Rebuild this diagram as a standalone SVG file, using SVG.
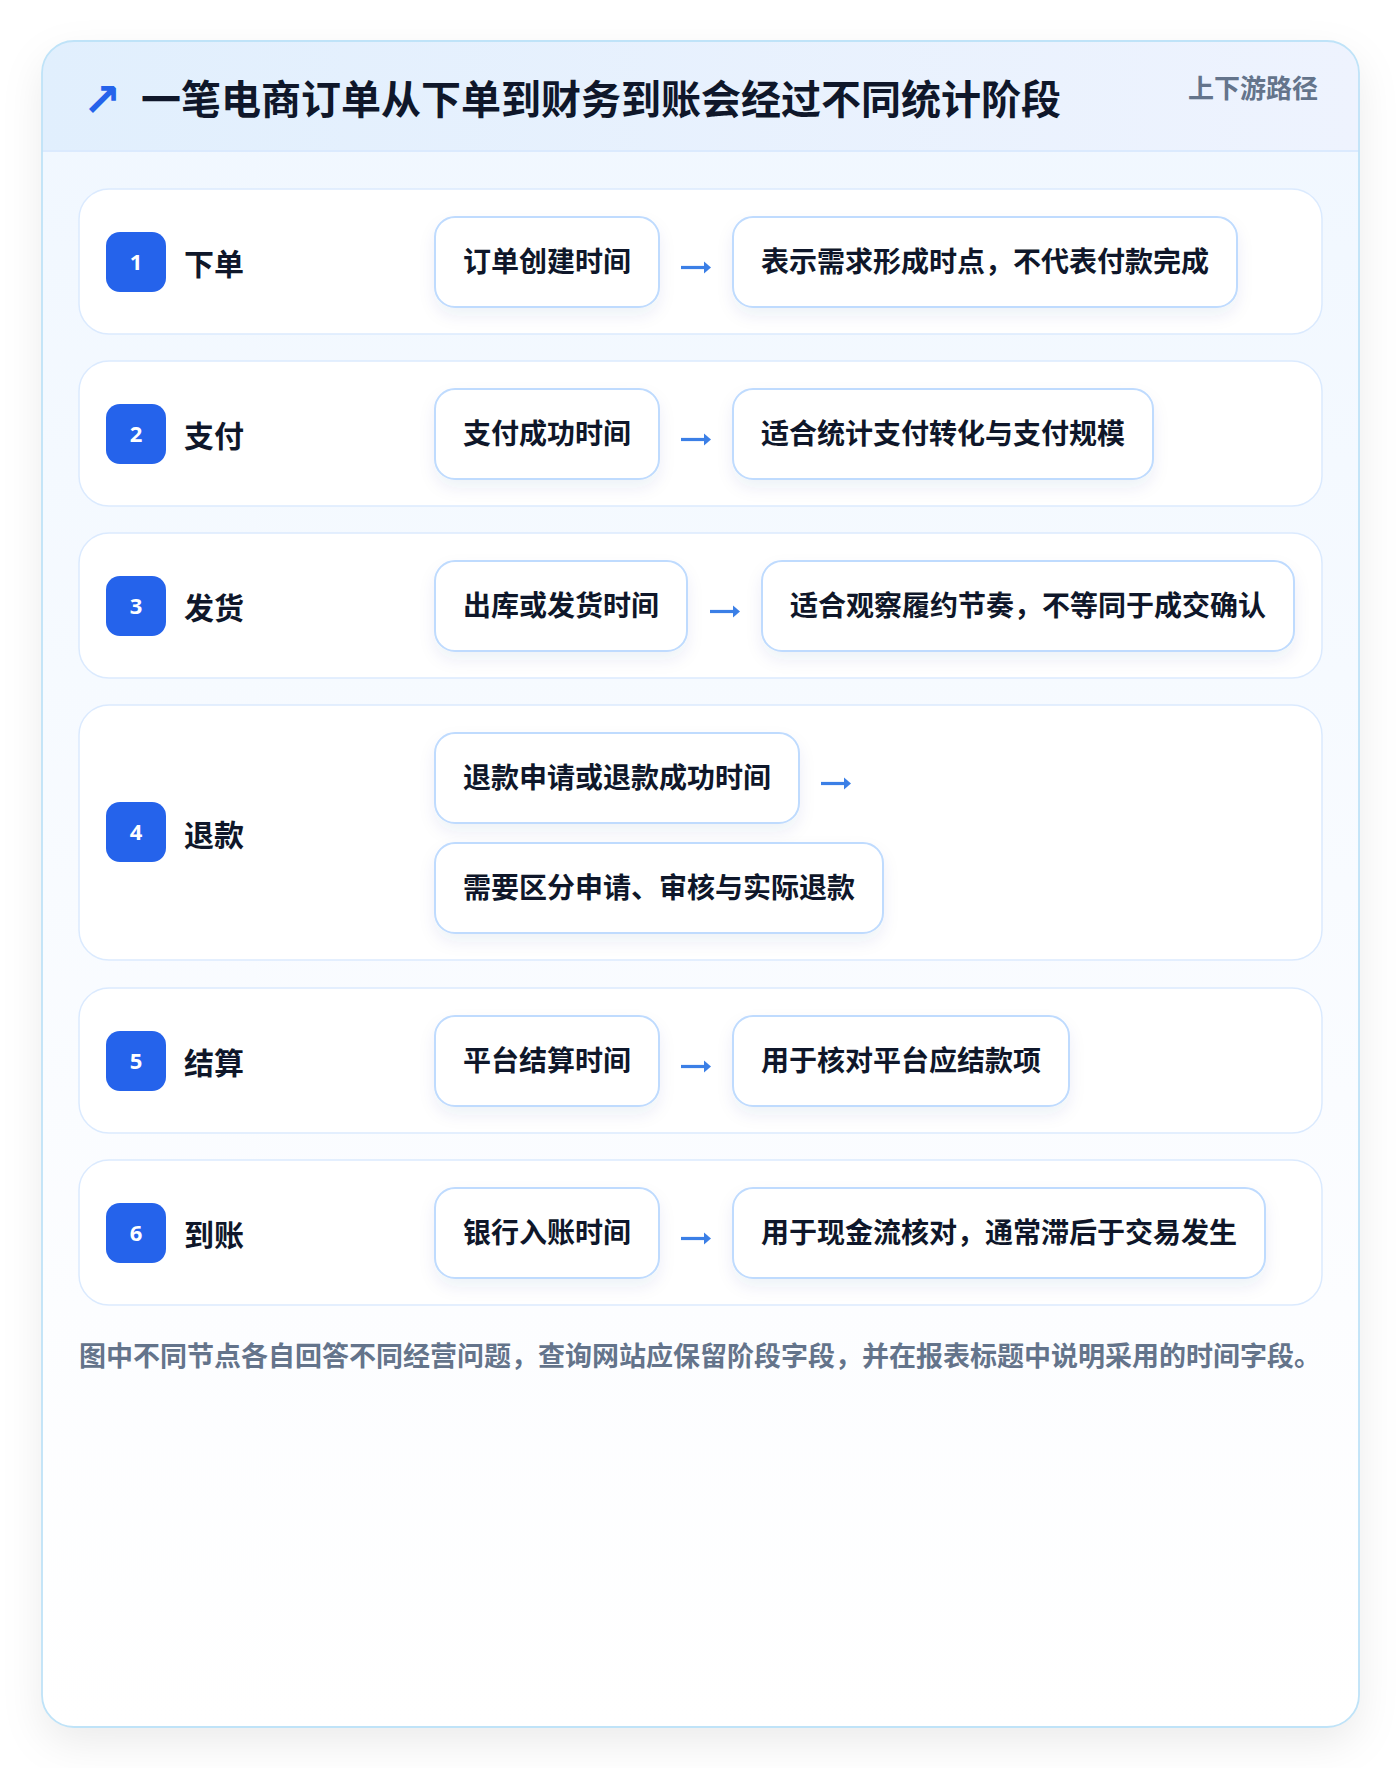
<svg xmlns="http://www.w3.org/2000/svg" width="1400" height="1768" viewBox="0 0 1400 1768">
<defs>
<linearGradient id="hdr" x1="0" y1="0" x2="1" y2="0"><stop offset="0" stop-color="#e1effd"/><stop offset="1" stop-color="#eef3fe"/></linearGradient>
<linearGradient id="body" x1="0" y1="0" x2="0" y2="1"><stop offset="0" stop-color="#f0f7ff"/><stop offset="0.75" stop-color="#fcfdff"/><stop offset="1" stop-color="#ffffff"/></linearGradient>
<filter id="cardShadow" x="-10%" y="-10%" width="120%" height="120%"><feDropShadow dx="0" dy="16" stdDeviation="20" flood-color="#0f172a" flood-opacity="0.08"/></filter>
<filter id="boxShadow" x="-20%" y="-30%" width="140%" height="170%"><feDropShadow dx="0" dy="8" stdDeviation="8" flood-color="#1e3a8a" flood-opacity="0.07"/></filter>
<clipPath id="cardClip"><rect x="42" y="41" width="1317" height="1686" rx="32"/></clipPath>
<g id="arrow">
<path d="M0 0 H25" stroke="#3b7fe6" stroke-width="3.2" fill="none"/>
<path d="M23 -6 L30 0 L23 6 Z" fill="#3b7fe6"/>
</g>
</defs>
<style>
.cjk{font-family:"Noto Sans CJK SC","Noto Sans",sans-serif;font-weight:700}
.row{fill:#ffffff;stroke:#dbeafe;stroke-width:1.5}
.box{fill:#ffffff;stroke:#bfdbfe;stroke-width:2}
.badge{fill:#2563eb}
.num{font-family:"Noto Sans","DejaVu Sans",sans-serif;font-weight:700;font-size:22px;fill:#ffffff;text-anchor:middle}
.lbl{font-size:30px;fill:#0f172a}
.bt{font-size:28px;fill:#0f172a}
</style>
<rect x="0" y="0" width="1400" height="1768" fill="#ffffff"/>
<g id="card">
<rect x="42" y="41" width="1317" height="1686" rx="32" fill="url(#body)" filter="url(#cardShadow)"/>
<g clip-path="url(#cardClip)">
<rect x="42" y="41" width="1317" height="110" fill="url(#hdr)"/>
<line x1="42" y1="151" x2="1359" y2="151" stroke="#dbeafe" stroke-width="2"/>
</g>
<rect x="42" y="41" width="1317" height="1686" rx="32" fill="none" stroke="#bfe3f8" stroke-width="1.8"/>
</g>
<g id="header">
<text x="102" y="116" font-size="46" fill="#2563eb" text-anchor="middle" font-family="DejaVu Sans, sans-serif" font-weight="700">↗</text>
<text x="141" y="114" class="cjk" font-size="40" fill="#0f172a">一笔电商订单从下单到财务到账会经过不同统计阶段</text>
<text x="1318" y="98" class="cjk" font-size="26" fill="#64748b" text-anchor="end">上下游路径</text>
</g>
<g id="stage1">
<rect class="row" x="79" y="189" width="1243" height="145" rx="30"/>
<rect class="badge" x="106" y="232" width="60" height="60" rx="14"/>
<text class="num" x="136" y="270">1</text>
<text class="cjk lbl" x="184" y="275">下单</text>
<g id="n1a" filter="url(#boxShadow)"><rect class="box" x="435" y="217" width="224" height="90" rx="20"/></g>
<text class="cjk bt" x="547" y="272" text-anchor="middle">订单创建时间</text>
<g id="n1b" filter="url(#boxShadow)"><rect class="box" x="733" y="217" width="504" height="90" rx="20"/></g>
<text class="cjk bt" x="761" y="272">表示需求形成时点，不代表付款完成</text>
</g>
<g id="stage2">
<rect class="row" x="79" y="361" width="1243" height="145" rx="30"/>
<rect class="badge" x="106" y="404" width="60" height="60" rx="14"/>
<text class="num" x="136" y="442">2</text>
<text class="cjk lbl" x="184" y="447">支付</text>
<g id="n2a" filter="url(#boxShadow)"><rect class="box" x="435" y="389" width="224" height="90" rx="20"/></g>
<text class="cjk bt" x="547" y="444" text-anchor="middle">支付成功时间</text>
<g id="n2b" filter="url(#boxShadow)"><rect class="box" x="733" y="389" width="420" height="90" rx="20"/></g>
<text class="cjk bt" x="761" y="444">适合统计支付转化与支付规模</text>
</g>
<g id="stage3">
<rect class="row" x="79" y="533" width="1243" height="145" rx="30"/>
<rect class="badge" x="106" y="576" width="60" height="60" rx="14"/>
<text class="num" x="136" y="614">3</text>
<text class="cjk lbl" x="184" y="619">发货</text>
<g id="n3a" filter="url(#boxShadow)"><rect class="box" x="435" y="561" width="252" height="90" rx="20"/></g>
<text class="cjk bt" x="561" y="616" text-anchor="middle">出库或发货时间</text>
<g id="n3b" filter="url(#boxShadow)"><rect class="box" x="762" y="561" width="532" height="90" rx="20"/></g>
<text class="cjk bt" x="790" y="616">适合观察履约节奏，不等同于成交确认</text>
</g>
<g id="stage4">
<rect class="row" x="79" y="705" width="1243" height="255" rx="30"/>
<rect class="badge" x="106" y="802" width="60" height="60" rx="14"/>
<text class="num" x="136" y="840">4</text>
<text class="cjk lbl" x="184" y="846">退款</text>
<g id="n4a" filter="url(#boxShadow)"><rect class="box" x="435" y="733" width="364" height="90" rx="20"/></g>
<text class="cjk bt" x="617" y="788" text-anchor="middle">退款申请或退款成功时间</text>
<g id="n4b" filter="url(#boxShadow)"><rect class="box" x="435" y="843" width="448" height="90" rx="20"/></g>
<text class="cjk bt" x="463" y="898">需要区分申请、审核与实际退款</text>
</g>
<g id="stage5">
<rect class="row" x="79" y="988" width="1243" height="145" rx="30"/>
<rect class="badge" x="106" y="1031" width="60" height="60" rx="14"/>
<text class="num" x="136" y="1069">5</text>
<text class="cjk lbl" x="184" y="1074">结算</text>
<g id="n5a" filter="url(#boxShadow)"><rect class="box" x="435" y="1016" width="224" height="90" rx="20"/></g>
<text class="cjk bt" x="547" y="1071" text-anchor="middle">平台结算时间</text>
<g id="n5b" filter="url(#boxShadow)"><rect class="box" x="733" y="1016" width="336" height="90" rx="20"/></g>
<text class="cjk bt" x="761" y="1071">用于核对平台应结款项</text>
</g>
<g id="stage6">
<rect class="row" x="79" y="1160" width="1243" height="145" rx="30"/>
<rect class="badge" x="106" y="1203" width="60" height="60" rx="14"/>
<text class="num" x="136" y="1241">6</text>
<text class="cjk lbl" x="184" y="1246">到账</text>
<g id="n6a" filter="url(#boxShadow)"><rect class="box" x="435" y="1188" width="224" height="90" rx="20"/></g>
<text class="cjk bt" x="547" y="1243" text-anchor="middle">银行入账时间</text>
<g id="n6b" filter="url(#boxShadow)"><rect class="box" x="733" y="1188" width="532" height="90" rx="20"/></g>
<text class="cjk bt" x="761" y="1243">用于现金流核对，通常滞后于交易发生</text>
</g>
<g id="connectors">
<use href="#arrow" x="681" y="267.5"/>
<use href="#arrow" x="681" y="439.5"/>
<use href="#arrow" x="710" y="611.5"/>
<use href="#arrow" x="821" y="783.5"/>
<use href="#arrow" x="681" y="1066.5"/>
<use href="#arrow" x="681" y="1238.5"/>
</g>
<g id="footer">
<text class="cjk" x="79" y="1366" font-size="27" fill="#64748b">图中不同节点各自回答不同经营问题，查询网站应保留阶段字段，并在报表标题中说明采用的时间字段。</text>
</g>
</svg>
